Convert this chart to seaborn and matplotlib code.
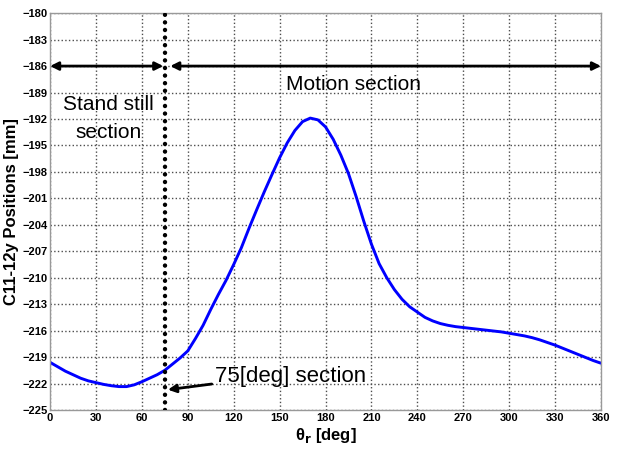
import numpy as np
import pandas as pd
import matplotlib
matplotlib.use("Agg")
import matplotlib.pyplot as plt
import seaborn as sns

# datos (cada 5 grados)
theta = list(range(0, 361, 5))
posicion = [-219.6, -220.1, -220.6, -221.0, -221.4, -221.7, -221.9, -222.1,
            -222.25, -222.35, -222.35, -222.15, -221.8, -221.4, -221.0, -220.5,
            -219.8, -219.1, -218.3, -216.9, -215.4, -213.6, -211.9, -210.3,
            -208.5, -206.6, -204.4, -202.3, -200.25, -198.3, -196.4, -194.7,
            -193.3, -192.3, -191.9, -192.1, -192.9, -194.3, -196.1, -198.2,
            -200.8, -203.6, -206.2, -208.4, -210.0, -211.35, -212.45, -213.3,
            -213.9, -214.5, -214.9, -215.2, -215.4, -215.55, -215.65, -215.75,
            -215.85, -215.95, -216.05, -216.15, -216.3, -216.45, -216.6, -216.8,
            -217.05, -217.35, -217.65, -218.0, -218.35, -218.7, -219.05, -219.4,
            -219.7]

x_ticks = list(range(0, 361, 30))
y_ticks = list(range(-225, -179, 3))
corte = 75
flecha_y = -186

sns.set_style("white")
plt.rcParams["font.family"] = ["Liberation Sans", "DejaVu Sans"]
plt.rcParams["text.color"] = "black"
plt.rcParams["axes.labelcolor"] = "black"
plt.rcParams["xtick.color"] = "black"
plt.rcParams["ytick.color"] = "black"

df = pd.DataFrame({"theta": theta, "pos": posicion})

fig = plt.figure(figsize=(6.18, 4.54), dpi=100)
ax = fig.add_axes([0.081, 0.097, 0.8915, 0.874])

sns.lineplot(data=df, x="theta", y="pos", ax=ax, color="#0000ff", linewidth=2.1)

ax.set_xlim(0, 360)
ax.set_ylim(-225, -180)
ax.set_xticks(x_ticks)
ax.set_yticks(y_ticks)
ax.grid(True, linestyle=":", color="0.3", linewidth=1.0)
for sp in ax.spines.values():
    sp.set_color("0.6")
    sp.set_linewidth(1.0)
ax.tick_params(direction="in", length=3, color="0.5", labelcolor="black",
               labelsize=8, pad=2)
for lab in ax.get_xticklabels() + ax.get_yticklabels():
    lab.set_fontweight("bold")

ax.set_xlabel(r"θ$_\mathbf{r}$ [deg]", fontsize=12, fontweight="bold", labelpad=2)
ax.set_ylabel("C11-12y Positions [mm]", fontsize=12, fontweight="bold", labelpad=2)

# linea vertical punteada en 75 grados
ax.axvline(corte, color="black", linewidth=3.2,
           linestyle=(0, (0.01, 1.7)), dash_capstyle="round", zorder=5)

# flechas de secciones
ax.annotate("", xy=(0, flecha_y), xytext=(corte - 1, flecha_y),
            arrowprops=dict(arrowstyle="<|-|>", color="black", lw=2,
                            mutation_scale=12, shrinkA=0, shrinkB=0))
ax.annotate("", xy=(corte + 3.5, flecha_y), xytext=(360, flecha_y),
            arrowprops=dict(arrowstyle="<|-|>", color="black", lw=2,
                            mutation_scale=12, shrinkA=0, shrinkB=0))

ax.text(38, -191.0, "Stand still", fontsize=15, ha="center", va="baseline")
ax.text(38, -194.2, "section", fontsize=15, ha="center", va="baseline")
ax.text(198, -188.7, "Motion section", fontsize=15, ha="center", va="baseline")

ax.annotate("75[deg] section", xy=(77, -222.7), xytext=(107.8, -221.8),
            fontsize=16, ha="left", va="baseline",
            arrowprops=dict(arrowstyle="-|>", color="black", lw=2,
                            mutation_scale=12, shrinkA=0, shrinkB=0,
                            relpos=(0, 0.15)))

fig.savefig("out.png", dpi=100)
